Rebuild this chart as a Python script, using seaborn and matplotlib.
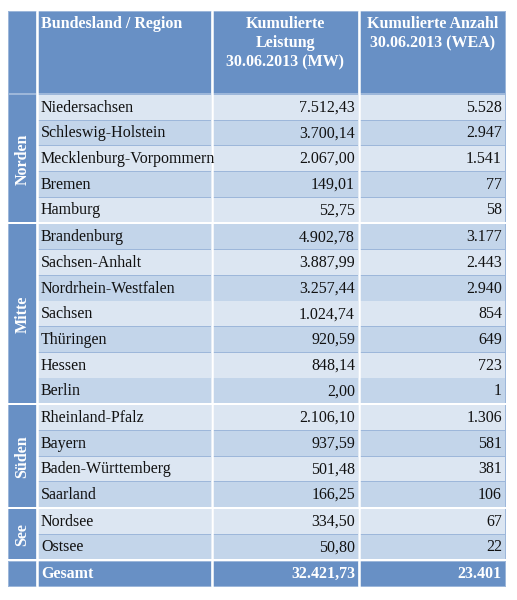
import matplotlib
matplotlib.use("Agg")
import matplotlib.pyplot as plt
import seaborn as sns
from matplotlib.patches import Rectangle

sns.set_theme(style="white")
plt.rcParams['font.family'] = ['Liberation Serif', 'DejaVu Serif']

groups = ["Norden", "Mitte", "Süden", "See"]
group_sizes = [5, 7, 4, 2]
names = ["Niedersachsen", "Schleswig-Holstein", "Mecklenburg-Vorpommern", "Bremen", "Hamburg",
         "Brandenburg", "Sachsen-Anhalt", "Nordrhein-Westfalen", "Sachsen", "Thüringen", "Hessen", "Berlin",
         "Rheinland-Pfalz", "Bayern", "Baden-Württemberg", "Saarland",
         "Nordsee", "Ostsee"]
leistung = ["7.512,43", "3.700,14", "2.067,00", "149,01", "52,75",
            "4.902,78", "3.887,99", "3.257,44", "1.024,74", "920,59", "848,14", "2,00",
            "2.106,10", "937,59", "501,48", "166,25",
            "334,50", "50,80"]
anzahl = ["5.528", "2.947", "1.541", "77", "58",
          "3.177", "2.443", "2.940", "854", "649", "723", "1",
          "1.306", "581", "381", "106",
          "67", "22"]
headers = ["Bundesland / Region", "Kumulierte\nLeistung\n30.06.2013 (MW)", "Kumulierte Anzahl\n30.06.2013 (WEA)"]
total = ["Gesamt", "32.421,73", "23.401"]

HEAD = "#6890C5"
LIGHT = "#DCE6F2"
DARK = "#C3D5EA"
EDGE = "#9DB7DA"

fig = plt.figure(figsize=(5.17, 6.0), dpi=100)
ax = fig.add_axes([0, 0, 1, 1])
ax.set_xlim(0, 517)
ax.set_ylim(600, 0)
ax.axis("off")

cols = [(9, 36), (38, 211), (213, 358), (360, 505)]
top, head_h, row_h = 12, 81, 25.65
y0 = top + head_h + 2
fs = 11.5

# outer frame
ax.add_patch(Rectangle((8, 11), 498, 576, facecolor=EDGE, edgecolor="none"))
# header
for i, (a, b) in enumerate(cols):
    ax.add_patch(Rectangle((a, top), b - a, head_h, facecolor=HEAD, edgecolor="none"))
ax.text(cols[1][0] + 3, top + 4, headers[0], color="white", fontweight="bold", fontsize=fs, va="top", ha="left")
for j in (2, 3):
    a, b = cols[j]
    ax.text((a + b) / 2, top + 4, headers[j - 1], color="white", fontweight="bold", fontsize=fs,
            va="top", ha="center", linespacing=1.25)

# rows
gap = 0
idx = 0
gy = y0
for g, n in zip(groups, group_sizes):
    gtop = gy
    for k in range(n):
        y = gy + k * row_h
        c = LIGHT if idx % 2 == 0 else DARK
        for j in (1, 2, 3):
            a, b = cols[j]
            ax.add_patch(Rectangle((a, y), b - a, row_h - 0.8, facecolor=c, edgecolor="none"))
        yc = y + row_h / 2
        t = ax.text(cols[1][0] + 3, yc, names[idx], fontsize=fs, va="center", ha="left", color="#111111")
        t.set_clip_path(Rectangle((cols[1][0], y), cols[1][1] - cols[1][0], row_h, transform=ax.transData))
        ax.text(cols[2][1] - 3, yc, leistung[idx], fontsize=fs, va="center", ha="right", color="#111111")
        ax.text(cols[3][1] - 3, yc, anzahl[idx], fontsize=fs, va="center", ha="right", color="#111111")
        idx += 1
    gh = n * row_h
    ax.add_patch(Rectangle((cols[0][0], gtop), cols[0][1] - cols[0][0], gh - 1, facecolor=HEAD, edgecolor="none"))
    ax.text((cols[0][0] + cols[0][1]) / 2, gtop + gh / 2, g, rotation=90, color="white",
            fontweight="bold", fontsize=fs, va="center", ha="center")
    # white separator
    ax.add_patch(Rectangle((8, gtop + gh - 1.2), 498, 2, facecolor="white", edgecolor="none"))
    gy = gtop + gh + 1.2

# total row
ty = gy
th = 586 - ty
for a, b in cols:
    ax.add_patch(Rectangle((a, ty), b - a, th, facecolor=HEAD, edgecolor="none"))
ax.text(cols[1][0] + 3, ty + th / 2, total[0], color="white", fontweight="bold", fontsize=fs, va="center")
ax.text(cols[2][1] - 3, ty + th / 2, total[1], color="white", fontweight="bold", fontsize=fs, va="center", ha="right")
ax.text(cols[3][1] - 3, ty + th / 2, total[2], color="white", fontweight="bold", fontsize=fs, va="center", ha="right")

# white vertical separators
for x in (36.5, 211.5, 358.5):
    ax.plot([x + 0.5, x + 0.5], [11, 587], color="white", lw=1.8)

fig.savefig("out.png", dpi=100)
